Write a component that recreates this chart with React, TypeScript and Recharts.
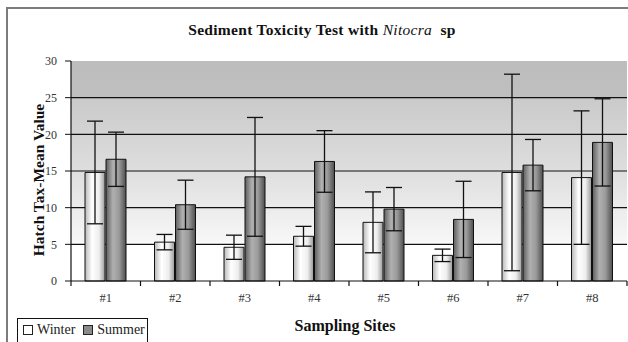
import { BarChart, Bar, XAxis, YAxis, CartesianGrid, ErrorBar, Label } from "recharts";

const sites = ["#1", "#2", "#3", "#4", "#5", "#6", "#7", "#8"];
const winter = [14.8, 5.3, 4.6, 6.1, 8.0, 3.5, 14.8, 14.1];
const winterErr = [7.0, 1.05, 1.65, 1.35, 4.15, 0.85, 13.4, 9.1];
const summer = [16.6, 10.4, 14.2, 16.3, 9.8, 8.4, 15.8, 18.9];
const summerErr = [3.7, 3.35, 8.1, 4.2, 2.95, 5.2, 3.5, 5.95];
const yTicks = [0, 5, 10, 15, 20, 25, 30];
const gridValues = [5, 10, 15, 20, 25];
const seriesNames = ["Winter", "Summer"];

const data = sites.map((site, i) => ({
  site,
  winter: winter[i],
  winterErr: winterErr[i],
  summer: summer[i],
  summerErr: summerErr[i],
}));

const FONT = "'Liberation Serif', 'Times New Roman', Tinos, Times, serif";
const TICK_GAP = 12;

function YTitle(props: any) {
  const vb = props.viewBox || {};
  const cx = vb.x + vb.width / 2 - 18;
  const cy = vb.y + vb.height / 2 + 9;
  return (
    <text
      x={cx}
      y={cy}
      transform={`rotate(-90, ${cx}, ${cy})`}
      textAnchor="middle"
      dominantBaseline="central"
      style={{ fontFamily: FONT, fontWeight: "bold", fontSize: 15.5 }}
      fill="#111"
    >
      Hatch Tax-Mean Value
    </text>
  );
}

function XTitle(props: any) {
  const vb = props.viewBox || {};
  return (
    <text
      x={vb.x + vb.width / 2 - 4}
      y={331}
      textAnchor="middle"
      style={{ fontFamily: FONT, fontWeight: "bold", fontSize: 16 }}
      fill="#111"
    >
      Sampling Sites
    </text>
  );
}

// site label plus the small tick marks that sit between the sites
function SiteTick(props: any) {
  const { x, y, payload, index } = props;
  const half = payload.offset || 0;
  const axisY = y - TICK_GAP;
  return (
    <g>
      <line x1={x - half} x2={x - half} y1={axisY} y2={axisY + 5} stroke="#111" strokeWidth={1.2} />
      {index === sites.length - 1 && (
        <line x1={x + half} x2={x + half} y1={axisY} y2={axisY + 5} stroke="#111" strokeWidth={1.2} />
      )}
      <text x={x} y={y} dy="0.75em" textAnchor="middle" fill="#333" style={{ fontFamily: FONT, fontSize: 12.5 }}>
        {payload.value}
      </text>
    </g>
  );
}

export default function App() {
  return (
    <div
      style={{
        position: "fixed",
        left: 0,
        top: 0,
        width: 628,
        height: 342,
        background: "#fff",
        overflow: "hidden",
        fontFamily: FONT,
      }}
    >
      {/* outer frame */}
      <div
        style={{
          position: "absolute",
          left: 6,
          top: 7,
          width: 700,
          height: 400,
          border: "2px solid #7c7c7c",
        }}
      />
      <div
        style={{
          position: "absolute",
          left: 0,
          width: 644,
          top: 21,
          textAlign: "center",
          fontSize: 15.5,
          letterSpacing: 0.3,
          fontWeight: "bold",
          color: "#111",
          fontFamily: FONT,
        }}
      >
        Sediment Toxicity Test with <span style={{ fontStyle: "italic", fontWeight: "normal" }}>Nitocra</span>&nbsp; sp
      </div>

      <div style={{ position: "absolute", left: 0, top: 0 }}>
        <BarChart
          width={628}
          height={342}
          data={data}
          margin={{ top: 61, right: 1, bottom: 31, left: 41 }}
          barSize={20}
          barGap={1}
        >
          <defs>
            <linearGradient id="plotBg" x1="0" y1="0" x2="0" y2="1">
              <stop offset="0" stopColor="#bdbdbd" />
              <stop offset="0.166" stopColor="#bfbfbf" />
              <stop offset="0.17" stopColor="#cacaca" />
              <stop offset="0.5" stopColor="#dedede" />
              <stop offset="0.82" stopColor="#f7f7f7" />
              <stop offset="0.835" stopColor="#ffffff" />
              <stop offset="1" stopColor="#ffffff" />
            </linearGradient>
            <linearGradient id="winterFill" x1="0" y1="0" x2="1" y2="0">
              <stop offset="0" stopColor="#b8b8b8" />
              <stop offset="0.35" stopColor="#ffffff" />
              <stop offset="0.7" stopColor="#eeeeee" />
              <stop offset="1" stopColor="#9a9a9a" />
            </linearGradient>
            <linearGradient id="summerFill" x1="0" y1="0" x2="1" y2="0">
              <stop offset="0" stopColor="#5e5e5e" />
              <stop offset="0.35" stopColor="#b0b0b0" />
              <stop offset="0.65" stopColor="#9a9a9a" />
              <stop offset="1" stopColor="#4e4e4e" />
            </linearGradient>
          </defs>
          <CartesianGrid horizontal={false} vertical={false} fill="url(#plotBg)" fillOpacity={1} />
          <CartesianGrid vertical={false} stroke="#111" strokeWidth={1.2} horizontalValues={gridValues} />
          <XAxis
            dataKey="site"
            height={30}
            interval={0}
            axisLine={{ stroke: "#111", strokeWidth: 1.2 }}
            tickLine={false}
            tickSize={0}
            tickMargin={TICK_GAP}
            tick={<SiteTick />}
          >
            <Label content={<XTitle />} />
          </XAxis>
          <YAxis
            width={30}
            domain={[0, 30]}
            ticks={yTicks}
            interval={0}
            axisLine={{ stroke: "#111", strokeWidth: 1.2 }}
            tickLine={{ stroke: "#111" }}
            tickSize={6}
            tickMargin={8}
            tick={{ fill: "#333", fontSize: 12, style: { fontFamily: FONT } }}
          >
            <Label content={<YTitle />} />
          </YAxis>
          <Bar dataKey="winter" name={seriesNames[0]} fill="url(#winterFill)" stroke="#111" strokeWidth={1} isAnimationActive={false}>
            <ErrorBar dataKey="winterErr" width={8} stroke="#111" strokeWidth={1.3} />
          </Bar>
          <Bar dataKey="summer" name={seriesNames[1]} fill="url(#summerFill)" stroke="#111" strokeWidth={1} isAnimationActive={false}>
            <ErrorBar dataKey="summerErr" width={8} stroke="#111" strokeWidth={1.3} />
          </Bar>
        </BarChart>
      </div>

      {/* legend */}
      <div
        style={{
          position: "absolute",
          left: 17,
          top: 318,
          width: 131,
          height: 40,
          border: "1px solid #111",
          background: "#fff",
          display: "flex",
          alignItems: "flex-start",
          paddingTop: 3,
          paddingLeft: 5,
          boxSizing: "border-box",
          fontSize: 14,
          color: "#222",
          lineHeight: "16px",
          fontFamily: FONT,
        }}
      >
        {seriesNames.map((name, i) => (
          <span key={name} style={{ display: "flex", alignItems: "center", marginRight: 8 }}>
            <span
              style={{
                display: "inline-block",
                width: 8,
                height: 8,
                border: "1px solid #222",
                background: i === 0 ? "#fff" : "#8a8a8a",
                marginRight: 4,
              }}
            />
            {name}
          </span>
        ))}
      </div>
    </div>
  );
}
